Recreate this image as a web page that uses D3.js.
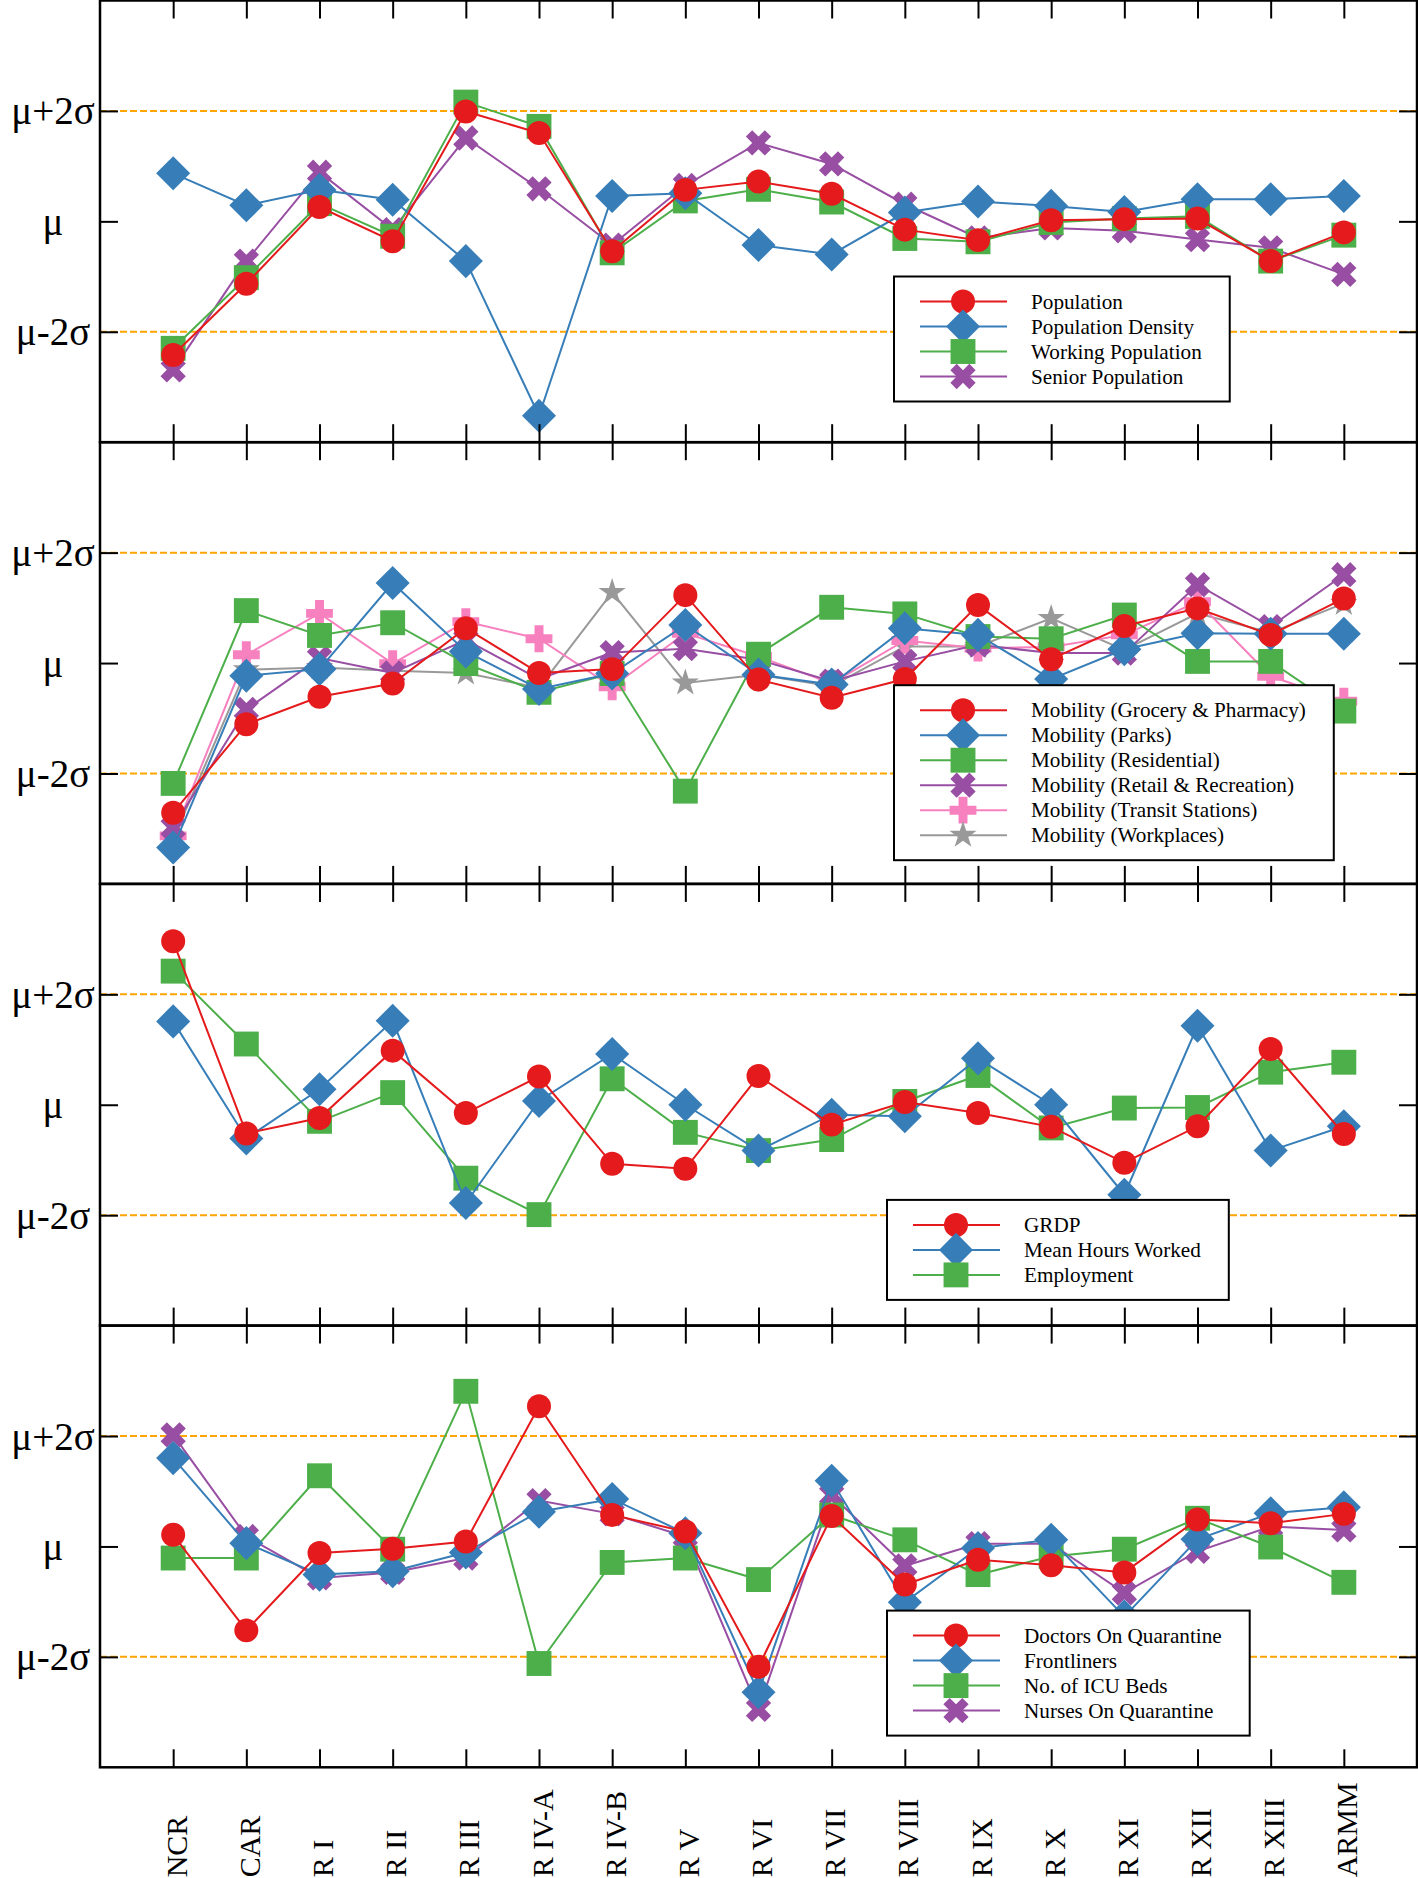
<!DOCTYPE html>
<html lang="en">
<head>
<meta charset="utf-8">
<title>Regional indicators (standardised)</title>
<script src="https://d3js.org/d3.v7.min.js"></script>
<style>
  body { margin: 0; background: #fff; }
  svg text { font-family: "Liberation Serif", "Times New Roman", serif; fill: #000; }
</style>
</head>
<body>
<div id="chart"></div>
<script>
// categories and tick labels
var regions = ["NCR", "CAR", "R I", "R II", "R III", "R IV-A", "R IV-B", "R V", "R VI",
               "R VII", "R VIII", "R IX", "R X", "R XI", "R XII", "R XIII", "ARMM"];
var sigmaTicks = [-2, 0, 2];
var sigmaLabels = ["μ-2σ", "μ", "μ+2σ"];

// panel 1 - population (in sigma units from the mean)
var population        = [-2.42, -1.13, 0.26, -0.36, 1.99, 1.60, -0.54, 0.57, 0.72, 0.50, -0.15, -0.34, 0.02, 0.04, 0.05, -0.72, -0.20];
var populationDensity = [0.87, 0.29, 0.57, 0.39, -0.72, -3.52, 0.46, 0.51, -0.43, -0.60, 0.16, 0.36, 0.28, 0.17, 0.40, 0.40, 0.46];
var workingPopulation = [-2.30, -1.02, 0.32, -0.27, 2.16, 1.72, -0.57, 0.37, 0.58, 0.35, -0.31, -0.37, -0.02, 0.05, 0.09, -0.72, -0.25];
var seniorPopulation  = [-2.69, -0.72, 0.89, -0.15, 1.51, 0.59, -0.43, 0.65, 1.42, 1.04, 0.31, -0.30, -0.12, -0.17, -0.33, -0.48, -0.96];

// panel 2 - mobility
var mobGrocery     = [-2.71, -1.11, -0.61, -0.37, 0.63, -0.18, -0.11, 1.23, -0.30, -0.63, -0.29, 1.05, 0.07, 0.67, 0.99, 0.51, 1.17];
var mobParks       = [-3.34, -0.23, -0.11, 1.45, 0.21, -0.47, -0.19, 0.69, -0.21, -0.39, 0.63, 0.51, -0.29, 0.25, 0.54, 0.53, 0.53];
var mobResidential = [-2.18, 0.95, 0.50, 0.73, -0.01, -0.53, -0.19, -2.32, 0.16, 1.01, 0.89, 0.48, 0.44, 0.87, 0.03, 0.03, -0.87];
var mobRetail      = [-2.98, -0.84, 0.09, -0.18, 0.42, -0.29, 0.19, 0.26, 0.06, -0.33, 0.03, 0.33, 0.18, 0.18, 1.42, 0.66, 1.60];
var mobTransit     = [-3.13, 0.15, 0.90, -0.01, 0.75, 0.44, -0.43, 0.54, 0.12, -0.37, 0.41, 0.27, 0.29, 0.51, 1.11, -0.24, -0.69];
var mobWorkplaces  = [-3.19, -0.12, -0.08, -0.14, -0.18, -0.45, 1.28, -0.36, -0.21, -0.42, 0.30, 0.30, 0.81, 0.24, 0.90, 0.55, 1.08];

// panel 3 - economy
var grdp        = [2.96, -0.52, -0.24, 0.98, -0.15, 0.51, -1.07, -1.16, 0.52, -0.36, 0.05, -0.15, -0.40, -1.05, -0.39, 1.01, -0.53];
var meanHours   = [1.51, -0.61, 0.28, 1.52, -1.78, 0.07, 0.92, 0.00, -0.83, -0.18, -0.21, 0.84, 0.00, -1.63, 1.43, -0.83, -0.39];
var employment  = [2.42, 1.10, -0.30, 0.22, -1.33, -1.99, 0.47, -0.50, -0.83, -0.63, 0.06, 0.53, -0.42, -0.06, -0.05, 0.59, 0.77];

// panel 4 - health system
var doctorsQuarantine = [0.21, -1.52, -0.12, -0.04, 0.09, 2.54, 0.57, 0.27, -2.18, 0.55, -0.69, -0.24, -0.34, -0.47, 0.49, 0.42, 0.59];
var frontliners       = [1.60, 0.06, -0.51, -0.45, -0.11, 0.63, 0.86, 0.24, -2.64, 1.19, -1.01, -0.03, 0.12, -1.27, 0.13, 0.60, 0.71];
var icuBeds           = [-0.21, -0.21, 1.28, -0.05, 2.81, -2.12, -0.29, -0.21, -0.60, 0.57, 0.12, -0.51, -0.18, -0.05, 0.51, -0.01, -0.65];
var nursesQuarantine  = [2.02, 0.18, -0.57, -0.47, -0.21, 0.83, 0.59, 0.18, -2.95, 0.93, -0.35, 0.05, 0.05, -0.84, -0.09, 0.36, 0.30];

var red = "#e41a1c", blue = "#377eb8", green = "#4daf4a",
    purple = "#984ea3", pink = "#f781bf", grey = "#999999";

var panels = [
  {legendX: 894, legendY: 276, series: [
    {name: "Population", values: population, color: red, symbol: "circle"},
    {name: "Population Density", values: populationDensity, color: blue, symbol: "diamond"},
    {name: "Working Population", values: workingPopulation, color: green, symbol: "square"},
    {name: "Senior Population", values: seniorPopulation, color: purple, symbol: "x"}
  ]},
  {legendX: 894, legendY: 243, series: [
    {name: "Mobility (Grocery & Pharmacy)", values: mobGrocery, color: red, symbol: "circle"},
    {name: "Mobility (Parks)", values: mobParks, color: blue, symbol: "diamond"},
    {name: "Mobility (Residential)", values: mobResidential, color: green, symbol: "square"},
    {name: "Mobility (Retail & Recreation)", values: mobRetail, color: purple, symbol: "x"},
    {name: "Mobility (Transit Stations)", values: mobTransit, color: pink, symbol: "plus"},
    {name: "Mobility (Workplaces)", values: mobWorkplaces, color: grey, symbol: "star"}
  ]},
  {legendX: 887, legendY: 316, series: [
    {name: "GRDP", values: grdp, color: red, symbol: "circle"},
    {name: "Mean Hours Worked", values: meanHours, color: blue, symbol: "diamond"},
    {name: "Employment", values: employment, color: green, symbol: "square"}
  ]},
  {legendX: 887, legendY: 285, series: [
    {name: "Doctors On Quarantine", values: doctorsQuarantine, color: red, symbol: "circle"},
    {name: "Frontliners", values: frontliners, color: blue, symbol: "diamond"},
    {name: "No. of ICU Beds", values: icuBeds, color: green, symbol: "square"},
    {name: "Nurses On Quarantine", values: nursesQuarantine, color: purple, symbol: "x"}
  ]}
];

var symbols = {
  circle:  {type: d3.symbolCircle, size: 452, rotate: 0},
  diamond: {type: d3.symbolSquare, size: 580, rotate: 45},
  square:  {type: d3.symbolSquare, size: 620, rotate: 0},
  x:       {type: d3.symbolCross, size: 400, rotate: 45},
  plus:    {type: d3.symbolCross, size: 400, rotate: 0},
  star:    {type: d3.symbolStar, size: 230, rotate: 0}
};

var width = 1418, height = 1878;
var plotLeft = 100, plotRight = 1417, plotTop = 0.5, panelH = 441.7;

var svg = d3.select("#chart").append("svg")
    .attr("width", width)
    .attr("height", height);

svg.append("rect").attr("width", width).attr("height", height).attr("fill", "#fff");

var x = d3.scalePoint()
    .domain(regions)
    .range([plotLeft, plotRight])
    .padding(1);

var y = d3.scaleLinear()
    .domain([-4, 4])
    .range([panelH, 0]);

function symbolPath(key) {
  return d3.symbol().type(symbols[key].type).size(symbols[key].size)();
}

function drawMarker(sel, s, cx, cy) {
  sel.append("path")
    .attr("d", symbolPath(s.symbol))
    .attr("transform", "translate(" + cx + "," + cy + ") rotate(" + symbols[s.symbol].rotate + ")")
    .attr("fill", s.color);
}

var line = d3.line()
    .x(function(d, i) { return x(regions[i]); })
    .y(function(d) { return y(d); });

panels.forEach(function(p, k) {
  var g = svg.append("g")
      .attr("transform", "translate(0," + (plotTop + k * panelH) + ")");

  // +-2 sigma guide lines
  g.selectAll(".sigma")
    .data([-2, 2])
    .join("line")
      .attr("x1", plotLeft).attr("x2", plotRight)
      .attr("y1", y).attr("y2", y)
      .attr("stroke", "#ffa500")
      .attr("stroke-width", 2)
      .attr("stroke-dasharray", "7,3");

  // series, last one at the back
  p.series.slice().reverse().forEach(function(s) {
    g.append("path")
      .datum(s.values)
      .attr("d", line)
      .attr("fill", "none")
      .attr("stroke", s.color)
      .attr("stroke-width", 2);
    s.values.forEach(function(v, i) {
      drawMarker(g, s, x(regions[i]), y(v));
    });
  });

  // inward ticks on all four sides
  g.append("g")
    .call(d3.axisTop(x).tickSize(-18).tickFormat(""))
    .call(function(a) { a.select(".domain").remove(); });

  var bottom = g.append("g")
    .attr("transform", "translate(0," + panelH + ")")
    .call(d3.axisBottom(x).tickSize(-18).tickFormat(k === panels.length - 1 ? null : ""))
    .call(function(a) { a.select(".domain").remove(); });

  if (k === panels.length - 1) {
    bottom.selectAll("text")
      .attr("x", 0).attr("y", 0).attr("dy", null)
      .attr("transform", "translate(13,110) rotate(-90)")
      .style("text-anchor", "start")
      .style("font-size", "30px")
      .style("font-family", "'Liberation Serif', serif");
  }

  g.append("g")
    .attr("transform", "translate(" + plotLeft + ",0)")
    .call(d3.axisLeft(y).tickValues(sigmaTicks).tickSize(-18)
      .tickFormat(function(d, i) { return sigmaLabels[i]; }))
    .call(function(a) { a.select(".domain").remove(); })
    .selectAll("text")
      .attr("x", -47)
      .attr("dy", "13px")
      .style("text-anchor", "middle")
      .style("font-size", "39px")
      .style("font-family", "'Liberation Serif', serif");

  g.append("g")
    .attr("transform", "translate(" + plotRight + ",0)")
    .call(d3.axisRight(y).tickValues(sigmaTicks).tickSize(-18).tickFormat(""))
    .call(function(a) { a.select(".domain").remove(); });

  g.selectAll(".tick line").attr("stroke", "#000").attr("stroke-width", 2);

  // frame
  g.append("rect")
    .attr("x", plotLeft).attr("y", 0)
    .attr("width", plotRight - plotLeft).attr("height", panelH)
    .attr("fill", "none")
    .attr("stroke", "#000")
    .attr("stroke-width", 2.5);

  // legend
  var lg = g.append("g").attr("transform", "translate(" + p.legendX + "," + p.legendY + ")");
  var box = lg.append("rect")
    .attr("fill", "#fff")
    .attr("stroke", "#000")
    .attr("stroke-width", 2);
  var maxW = 0;
  p.series.forEach(function(s, i) {
    var ry = 25 + i * 25;
    lg.append("line")
      .attr("x1", 26).attr("x2", 113)
      .attr("y1", ry).attr("y2", ry)
      .attr("stroke", s.color)
      .attr("stroke-width", 2);
    drawMarker(lg, s, 69, ry);
    var t = lg.append("text")
      .attr("x", 137).attr("y", ry)
      .attr("dy", "7px")
      .style("font-size", "21.2px")
      .text(s.name);
    maxW = Math.max(maxW, t.node().getComputedTextLength());
  });
  box.attr("width", 137 + maxW + 28)
     .attr("height", p.series.length * 25 + 25);
});
</script>
</body>
</html>
